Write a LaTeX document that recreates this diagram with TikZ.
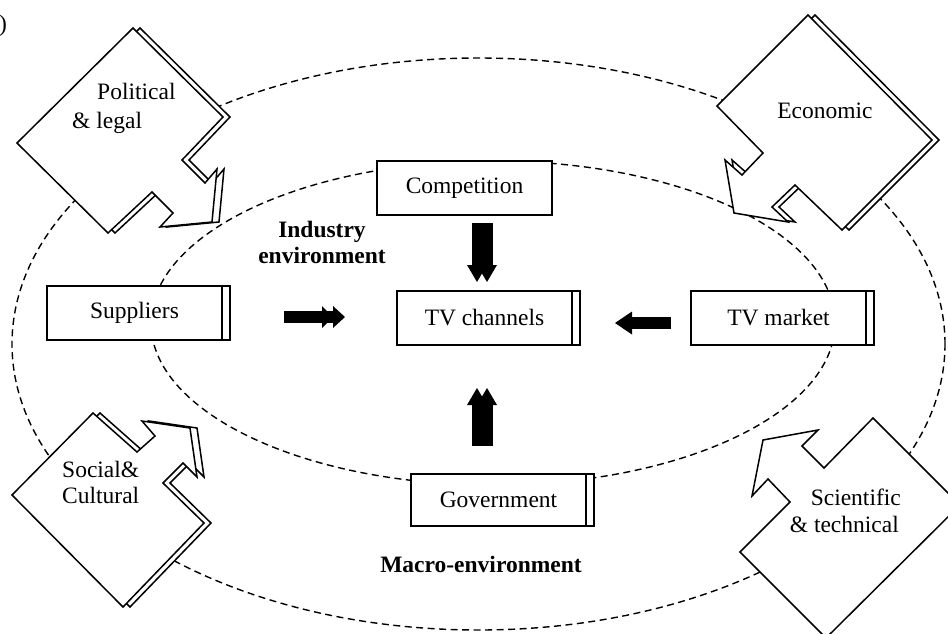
\documentclass[tikz,border=0pt]{standalone}
\usepackage{fontspec}
\setmainfont{Liberation Serif}
\usetikzlibrary{arrows.meta,calc}
\pgfdeclarelayer{bgl}
\pgfdeclarelayer{shl}
\pgfsetlayers{bgl,shl,main}
\newcommand\myPolPath{(133,28) -- (223,117) -- (182,160) -- (205,183) -- (217,169) -- (212,222) -- (160,227) -- (173,213) -- (152,192) -- (108,233) -- (17,143) -- cycle}
\newcommand\myEcoPath{(808,15) -- (932,140) -- (842,230) -- (795,185) -- (772,207) -- (788,222) -- (734,213) -- (725,160) -- (742,175) -- (763,153) -- (717,106) -- cycle}
\newcommand\mySocPath{(93,413) -- (137,452) -- (155,436) -- (142,421) -- (190,428) -- (197,477) -- (183,463) -- (163,483) -- (204,523) -- (123,607) -- (12,495) -- cycle}
\newcommand\mySciPath{(873,418) -- (960,505) -- (826,638) -- (740,552) -- (790,502) -- (768,479) -- (752,496) -- (763,440) -- (818,430) -- (802,446) -- (824,468) -- cycle}
\tikzset{
  shp/.style={draw, fill=white, line width=1.5pt, line join=miter},
  box/.style={draw, fill=white, line width=1.5pt, minimum width=175pt, minimum height=54pt,
    inner sep=0pt, outer sep=0pt, font=\fontsize{23.5}{26}\selectfont},
  lbl/.style={inner sep=0pt, font=\fontsize{23.5}{26}\selectfont},
  blbl/.style={inner sep=0pt, font=\fontsize{23.5}{26}\selectfont\bfseries},
  dsh/.style={dash pattern=on 7pt off 4.5pt, line width=1.4pt},
  hfatA/.style={line width=12pt, -{Triangle[width=22pt,length=11pt,line width=0pt]}},
  hfatB/.style={line width=12pt, -{Triangle[width=22pt,length=12pt,line width=0pt]}},
  hfatC/.style={line width=12pt, -{Triangle[width=23pt,length=17pt,line width=0pt]}},
  vfat/.style={line width=11pt, -{Triangle[width=20pt,length=17pt,line width=0pt]}}
}
\begin{document}
\begin{tikzpicture}[x=1pt,y=-1pt]
\useasboundingbox (0,0) rectangle (948,633);
\begin{pgfonlayer}{bgl}
  \fill[white] (0,0) rectangle (948,633);
  \draw[dsh] (478.5,344) ellipse [x radius=466.5pt, y radius=286pt];
  \draw[dsh] (493,323) ellipse [x radius=342pt, y radius=162pt];
\end{pgfonlayer}

% environment shapes
\draw[shp, xshift=7pt] \myPolPath;
\draw[shp] \myPolPath;
\draw[shp, xshift=7pt] \myEcoPath;
\draw[shp] \myEcoPath;
\draw[shp, xshift=7pt] \mySocPath;
\draw[shp] \mySocPath;
\draw[shp] \mySciPath;

% boxes
\node[box] (comp) at (464.5,188) {Competition};
\node[box] (sup) at (134.5,313) {Suppliers};
\node[box] (tvc) at (484.5,318) {TV channels};
\node[box] (tvm) at (778.5,318) {TV market};
\node[box, minimum height=52pt] (gov) at (498.5,500) {Government};

\begin{pgfonlayer}{shl}
  \foreach \n in {sup,tvc,tvm,gov}
    \draw[shp] ([xshift=8pt]\n.south west) rectangle ([xshift=8pt]\n.north east);
\end{pgfonlayer}

% labels
\node[lbl, anchor=base west] (t1) at (97,99) {Political};
\node[lbl, anchor=base west] (t2) at (72,128) {\& legal};
\node[lbl, anchor=base] (t3) at (825,118) {Economic};
\node[lbl, anchor=base west] (t4) at (62,477) {Social\&};
\node[lbl, anchor=base west] (t5) at (62,503) {Cultural};
\node[lbl, anchor=base east] (t6) at (901,505) {Scientific};
\node[lbl, anchor=base east] (t7) at (899,532) {\& technical};
\node[blbl, anchor=base] (t8) at (322,237) {Industry};
\node[blbl, anchor=base] (t9) at (322,263) {environment};
\node[blbl, anchor=base] (t10) at (481,572) {Macro-environment};
\node[lbl, anchor=base west] (paren) at (-1,31) {)};

% fat arrows
\draw[hfatA, shorten <=62pt, shorten >=64pt] (sup.east |- 0,317) -- (tvc.west |- 0,317);
\draw[hfatB, shorten <=98pt, shorten >=52pt] (sup.east |- 0,317) -- (tvc.west |- 0,317);
\draw[hfatC, shorten <=20pt, shorten >=43pt] (tvm.west |- 0,323) -- (tvc.east |- 0,323);
\draw[vfat, shorten <=8pt, shorten >=9pt] ($(tvc.north |- comp.south)+(-7.5,0)$) -- ($(tvc.north)+(-7.5,0)$);
\draw[vfat, shorten <=8pt, shorten >=9pt] ($(tvc.north |- comp.south)+(2.5,0)$) -- ($(tvc.north)+(2.5,0)$);
\draw[vfat, shorten <=28pt, shorten >=43pt] ($(gov.north -| tvc.south)+(-7.5,0)$) -- ($(tvc.south)+(-7.5,0)$);
\draw[vfat, shorten <=28pt, shorten >=43pt] ($(gov.north -| tvc.south)+(2.5,0)$) -- ($(tvc.south)+(2.5,0)$);
\end{tikzpicture}
\end{document}
